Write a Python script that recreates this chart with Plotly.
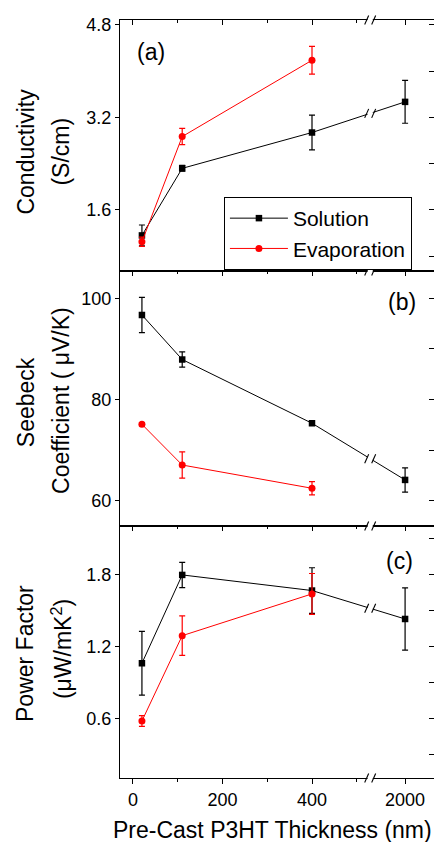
import plotly.graph_objects as go

# ---------------- data ----------------
thickness = [20, 110, 400, 2000]          # nm
thickness_evap = [20, 110, 400]

x_tick_values = [0, 200, 400, 2000]
x_tick_labels = ["0", "200", "400", "2000"]
x_minor_values = [100, 300, 500]

cond_sol = [1.16, 2.32, 2.94, 3.47]
cond_sol_err = [0.18, 0.05, 0.30, 0.37]
cond_evap = [1.05, 2.87, 4.19]
cond_evap_err = [0.08, 0.14, 0.24]

seeb_sol = [96.7, 87.9, 75.3, 64.1]
seeb_sol_err = [3.5, 1.5, 0.3, 2.4]
seeb_evap = [75.1, 67.05, 62.45]
seeb_evap_err = [0.3, 2.6, 1.3]

pf_sol = [1.064, 1.80, 1.67, 1.433]
pf_sol_err = [0.265, 0.105, 0.19, 0.26]
pf_evap = [0.583, 1.294, 1.642]
pf_evap_err = [0.045, 0.165, 0.17]

# ---------------- broken x axis mapping ----------------
BREAK_AT = 530.0          # display position of the break
RIGHT_ANCHOR = 608.0      # display position of 2000 nm
RIGHT_SCALE = 0.1


def to_disp(v):
    return v if v <= BREAK_AT else RIGHT_ANCHOR + (v - 2000) * RIGHT_SCALE


def ax(letter, n):
    return letter if n == 1 else f"{letter}{n}"


XR = [-29, 672.6]
FONT = "Arial, Liberation Sans, Helvetica, sans-serif"
BLACK = "#000000"
RED = "#ff0000"
TICK_SIZE = 18
TITLE_SIZE = 23

panels = [
    dict(sol=cond_sol, sol_err=cond_sol_err, ev=cond_evap, ev_err=cond_evap_err,
         dom=[0.6689, 1.0], rng=[0.545, 4.886], major=[1.6, 3.2, 4.8], minor_dt=0.8,
         tick_labels=["1.6", "3.2", "4.8"]),
    dict(sol=seeb_sol, sol_err=seeb_sol_err, ev=seeb_evap, ev_err=seeb_evap_err,
         dom=[0.3325, 0.6689], rng=[55.0, 105.4], major=[60, 80, 100], minor_dt=10,
         tick_labels=["60", "80", "100"]),
    dict(sol=pf_sol, sol_err=pf_sol_err, ev=pf_evap, ev_err=pf_evap_err,
         dom=[0.0, 0.3325], rng=[0.108, 2.208], major=[0.6, 1.2, 1.8], minor_dt=0.3,
         tick_labels=["0.6", "1.2", "1.8"]),
]

fig = go.Figure()
xs_sol = [to_disp(v) for v in thickness]
xs_ev = [to_disp(v) for v in thickness_evap]

for i, p in enumerate(panels):
    k = i + 1
    xa, ya = ax("x", k), ax("y", k)
    xo, yo = ax("x", k + 3), ax("y", k + 3)
    fig.add_trace(go.Scatter(
        x=xs_sol, y=p["sol"], mode="lines+markers", name="Solution",
        xaxis=xa, yaxis=ya, showlegend=(k == 1),
        line=dict(color=BLACK, width=1),
        marker=dict(symbol="square", size=6.5, color=BLACK),
        error_y=dict(type="data", array=p["sol_err"], color=BLACK, thickness=1.2, width=3),
        hoverinfo="skip"))
    fig.add_trace(go.Scatter(
        x=xs_ev, y=p["ev"], mode="lines+markers", name="Evaporation",
        xaxis=xa, yaxis=ya, showlegend=(k == 1),
        line=dict(color=RED, width=1),
        marker=dict(symbol="circle", size=7, color=RED),
        error_y=dict(type="data", array=p["ev_err"], color=RED, thickness=1.2, width=3),
        hoverinfo="skip"))
    # empty helper traces so the mirrored (overlay) axes are drawn
    fig.add_trace(go.Scatter(x=[], y=[], xaxis=xo, yaxis=ya, showlegend=False, hoverinfo="skip"))
    fig.add_trace(go.Scatter(x=[], y=[], xaxis=xa, yaxis=yo, showlegend=False, hoverinfo="skip"))

    bottom = (k == 3)
    fig.update_layout(**{
        ax("xaxis", k): dict(
            domain=[0, 1], range=XR, anchor=ya, showline=True, linecolor=BLACK, linewidth=1.3,
            showgrid=False, zeroline=False,
            tickmode="array", tickvals=[to_disp(v) for v in x_tick_values], ticktext=x_tick_labels,
            ticks="outside" if bottom else "", ticklen=5, tickwidth=1.2, tickcolor=BLACK,
            showticklabels=bottom,
            tickfont=dict(family=FONT, size=TICK_SIZE, color=BLACK),
            minor=dict(tickmode="array", tickvals=x_minor_values,
                       ticks="outside" if bottom else "", ticklen=3, tickwidth=1.2, tickcolor=BLACK),
        ),
        ax("xaxis", k + 3): dict(
            overlaying=xa, side="top", anchor=ya, range=XR, showline=True, linecolor=BLACK,
            linewidth=1.3, showgrid=False, zeroline=False,
            tickmode="array", tickvals=[to_disp(v) for v in x_tick_values],
            ticks="inside", ticklen=5, tickwidth=1.2, tickcolor=BLACK, showticklabels=False,
            minor=dict(tickmode="array", tickvals=x_minor_values, ticks="inside", ticklen=3,
                       tickwidth=1.2, tickcolor=BLACK),
        ),
        ax("yaxis", k): dict(
            domain=p["dom"], range=p["rng"], anchor=xa, showline=True, linecolor=BLACK,
            linewidth=1.3, showgrid=False, zeroline=False,
            tickmode="array", tickvals=p["major"], ticktext=p["tick_labels"],
            ticks="outside", ticklen=4, tickwidth=1.2, tickcolor=BLACK,
            tickfont=dict(family=FONT, size=TICK_SIZE, color=BLACK),
        ),
        ax("yaxis", k + 3): dict(
            overlaying=ya, side="right", anchor=xa, range=p["rng"], showline=False,
            showgrid=False, zeroline=False, tickmode="linear", tick0=p["major"][0],
            dtick=p["minor_dt"], ticks="inside", ticklen=5, tickwidth=1.2, tickcolor=BLACK,
            showticklabels=False,
        ),
    })

# ---------------- axis-break marks ----------------
shapes = []


def add_break(yref, yanchor, gap=2.0):
    common = dict(xref="x", xsizemode="pixel", xanchor=BREAK_AT,
                  yref=yref, ysizemode="pixel", yanchor=yanchor, layer="above")
    shapes.append(dict(type="rect", x0=-2.6, x1=2.6, y0=-gap, y1=gap,
                       fillcolor="white", line=dict(width=0), **common))
    shapes.append(dict(type="line", x0=-5.5, x1=-1.5, y0=-4.5, y1=4.5,
                       line=dict(color=BLACK, width=1.1), **common))
    shapes.append(dict(type="line", x0=1.5, x1=5.5, y0=-4.5, y1=4.5,
                       line=dict(color=BLACK, width=1.1), **common))


# frame breaks (top of a, a/b border, b/c border, bottom of c)
add_break("y domain", 1)
add_break("y domain", 0)
add_break("y2 domain", 0)
add_break("y3 domain", 0)

# breaks on the Solution line segment crossing the gap
for i, p in enumerate(panels):
    k = i + 1
    x0d, x1d = xs_sol[2], xs_sol[3]
    t = (BREAK_AT - x0d) / (x1d - x0d)
    ycross = p["sol"][2] + t * (p["sol"][3] - p["sol"][2])
    add_break(ax("y", k), ycross, gap=2.5)

# ---------------- text ----------------
ann = []


def txt(text, x, y, size, angle=0):
    ann.append(dict(text=text, x=x, y=y, xref="paper", yref="paper", showarrow=False,
                    xanchor="center", yanchor="middle", textangle=angle,
                    font=dict(family=FONT, size=size, color=BLACK)))


txt("(a)", 0.098, 0.958, TITLE_SIZE)
txt("(b)", 0.898, 0.628, TITLE_SIZE)
txt("(c)", 0.889, 0.286, TITLE_SIZE)

txt("Conductivity", -0.3025, 0.8265, TITLE_SIZE, -90)
txt("(S/cm)", -0.191, 0.8265, TITLE_SIZE, -90)
txt("Seebeck", -0.299, 0.496, TITLE_SIZE, -90)
txt("Coefficient ( μV/K)", -0.188, 0.4987, TITLE_SIZE, -90)
txt("Power Factor", -0.3025, 0.1636, TITLE_SIZE, -90)
txt("(μW/mK<sup>2</sup>)", -0.185, 0.170, TITLE_SIZE, -90)
txt("Pre-Cast P3HT Thickness (nm)", 0.486, -0.0686, TITLE_SIZE)

fig.update_layout(
    width=434, height=842,
    margin=dict(l=120, r=0, t=20, b=64),
    paper_bgcolor="white", plot_bgcolor="white",
    shapes=shapes, annotations=ann,
    font=dict(family=FONT, color=BLACK),
    legend=dict(x=0.331, y=0.7665, xanchor="left", yanchor="top",
                bordercolor=BLACK, borderwidth=1, bgcolor="white", itemwidth=58,
                font=dict(family=FONT, size=21, color=BLACK), tracegroupgap=0),
    showlegend=True,
)

fig.write_html("out.html")
